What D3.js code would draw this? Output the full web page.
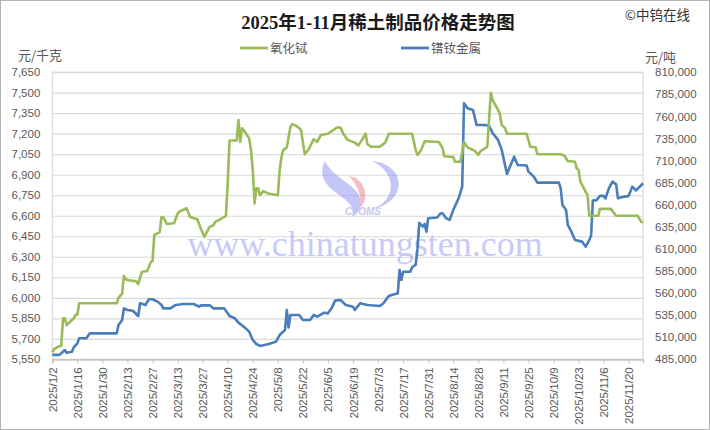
<!DOCTYPE html>
<html><head><meta charset="utf-8">
<script src="https://cdn.jsdelivr.net/npm/d3@7"></script>
<style>body{margin:0;background:#fff}svg{display:block}</style>
</head><body>
<svg id="c" width="710" height="430"></svg>
<script>
// ---------- data ----------
const year = 2025;
const tickLabels = ["1/2","1/16","1/30","2/13","2/27","3/13","3/27","4/10","4/24","5/8","5/22","6/5","6/19","7/3","7/17","7/31","8/14","8/28","9/11","9/25","10/9","10/23","11/6","11/20"];
const leftTicks = d3.range(5550, 7651, 150);
const rightTicks = d3.range(485000, 810001, 25000);

// 氧化铽 (元/千克, left axis)
const terbiumDates = ["1/2","1/3","1/5","1/7","1/8","1/9","1/10","1/14","1/15","1/16","1/17","2/7","2/8","2/10","2/11","2/12","2/13","2/18","2/19","2/21","2/24","2/26","2/27","2/28","3/3","3/4","3/5","3/7","3/11","3/13","3/14","3/18","3/20","3/24","3/26","3/28","3/31","4/2","4/3","4/8","4/9","4/10","4/11","4/15","4/16","4/17","4/18","4/19","4/22","4/23","4/24","4/25","4/26","4/27","4/28","4/30","5/2","5/8","5/9","5/10","5/11","5/13","5/15","5/16","5/18","5/20","5/21","5/23","5/25","5/28","5/30","6/1","6/5","6/10","6/12","6/14","6/16","6/20","6/22","6/24","6/26","6/27","6/29","7/4","7/7","7/9","7/22","7/24","7/25","7/27","7/29","8/6","8/8","8/9","8/14","8/15","8/18","8/20","8/22","8/26","8/28","8/29","9/1","9/2","9/4","9/5","9/9","9/10","9/12","9/13","9/24","9/26","9/29","9/30","10/13","10/15","10/17","10/21","10/22","10/23","10/24","10/27","10/28","10/29","11/3","11/4","11/10","11/13","11/25","11/27","11/28"];
const terbiumValues = [5600,5625,5640,5650,5850,5850,5800,5850,5875,5875,5960,5960,6000,6030,6160,6135,6130,6120,6100,6190,6195,6260,6270,6460,6480,6590,6590,6540,6545,6615,6630,6655,6590,6575,6505,6445,6520,6530,6555,6590,6600,6840,7150,7150,7300,7140,7240,7225,7165,7080,6935,6690,6800,6800,6750,6780,6765,6750,6930,7030,7080,7100,7250,7270,7260,7240,7225,7050,7080,7160,7140,7190,7200,7245,7245,7190,7155,7135,7115,7155,7200,7125,7105,7105,7135,7200,7200,7080,7045,7080,7145,7140,7095,7035,7030,6995,6995,7140,7100,7075,7045,7070,7095,7105,7500,7445,7350,7265,7240,7200,7200,7105,7100,7050,7050,7040,7000,6995,6945,6935,6850,6775,6750,6600,6600,6650,6650,6600,6600,6555,6550];

// 镨钕金属 (元/吨, right axis)
const prndDates = ["1/2","1/6","1/9","1/10","1/13","1/14","1/16","1/17","1/21","1/23","2/7","2/8","2/10","2/11","2/13","2/16","2/19","2/20","2/23","2/25","2/27","3/2","3/4","3/5","3/9","3/12","3/16","3/22","3/25","3/26","3/31","4/2","4/8","4/11","4/14","4/16","4/19","4/22","4/24","4/26","4/28","5/3","5/7","5/9","5/12","5/13","5/14","5/15","5/20","5/22","5/26","5/28","5/30","6/3","6/5","6/7","6/9","6/12","6/15","6/19","6/20","6/23","6/27","7/4","7/6","7/8","7/9","7/12","7/14","7/15","7/16","7/17","7/21","7/22","7/24","7/25","7/26","7/28","7/29","7/30","7/31","8/5","8/7","8/8","8/10","8/12","8/14","8/17","8/19","8/20","8/22","8/25","8/27","9/1","9/3","9/5","9/8","9/10","9/13","9/17","9/19","9/24","9/25","9/28","9/30","10/12","10/13","10/14","10/16","10/17","10/19","10/21","10/25","10/27","10/29","10/30","10/31","11/2","11/4","11/6","11/7","11/9","11/11","11/13","11/14","11/17","11/20","11/22","11/24","11/25","11/28"];
const prndValues = [490000,490000,495500,492500,493500,498600,503100,508800,508800,514400,514400,523800,529500,542700,540800,540000,534000,548400,546500,553000,553000,550000,546500,542700,542700,546500,547600,547600,544600,546000,546000,542700,542700,534000,531400,526500,521900,516300,506900,502300,500100,502300,505000,512500,518200,540800,521000,535200,535200,529500,529500,535200,533300,537800,537000,542700,551400,552100,546500,544600,540800,548400,546500,545400,548400,554100,556700,558600,559500,586000,574800,584000,584200,589200,592000,610000,639500,635200,638200,629500,644700,645500,650300,650300,644700,642800,654100,667300,680500,774900,769300,767300,750300,750300,749200,741000,733400,722800,694900,714400,705000,704300,697500,691800,685000,685000,678700,659700,654100,637100,629500,620100,618200,612500,620100,625000,664700,665200,670000,670000,667000,678700,686100,683000,667300,668900,670000,680500,676100,678000,684300];

// ---------- chart ----------
const parse = s => d3.timeParse("%Y/%m/%d")(year + "/" + s);
const svg = d3.select("#c");
const W = 710, H = 430;
const M = {l: 52.3, r: 643, t: 72.2, b: 359.3};
const FONT = "'Liberation Sans','Noto Sans CJK SC',sans-serif";
const CJK = "'Noto Sans CJK SC','Liberation Sans',sans-serif";
const GREEN = "#9BBB59", BLUE = "#4A7EBB";

const x = d3.scaleTime().domain([parse("1/2"), parse("11/28")]).range([M.l, M.r]);
const yL = d3.scaleLinear().domain([5550, 7650]).range([M.b, M.t]);
const yR = d3.scaleLinear().domain([485000, 810000]).range([M.b, M.t]);

svg.append("rect").attr("x", 0.5).attr("y", 0.5).attr("width", W - 1).attr("height", H - 1)
  .attr("fill", "#fff").attr("stroke", "#b4b4b4");

// gridlines
const grid = svg.append("g").attr("transform", `translate(${M.l},0)`)
  .call(d3.axisLeft(yL).tickValues(leftTicks).tickSize(-(M.r - M.l)).tickFormat(""));
grid.select(".domain").remove();
grid.selectAll("line").attr("stroke", "#d9d9d9").attr("stroke-width", 1.2);

// plot border
svg.append("rect").attr("x", M.l).attr("y", M.t).attr("width", M.r - M.l).attr("height", M.b - M.t)
  .attr("fill", "none").attr("stroke", "#d9d9d9").attr("stroke-width", 1.2);

// watermark
const wm = svg.append("g").attr("opacity", 0.5);
wm.append("path").attr("d", "M325,161 C316,178 330,189 342,197 C352,204 354,210 352,217 C364,210 364,197 352,187 C340,177 330,172 325,161 Z").attr("fill", "#8a8ff0");
wm.append("path").attr("d", "M349,176 C358,186 362,196 360,208 C369,198 366,185 356,178 Z").attr("fill", "#f07a8a");
wm.append("path").attr("d", "M372,161 C392,170 396,190 384,202 C380,206 376,207 371,208 C392,207 403,190 397,176 C392,166 382,162 372,161 Z").attr("fill", "#8a8ff0");
wm.append("text").attr("x", 363).attr("y", 215).attr("text-anchor", "middle")
  .attr("font-family", FONT).attr("font-style", "italic").attr("font-weight", "bold")
  .attr("font-size", 10).attr("fill", "#8a8ff0").text("CTOMS");
svg.append("text").attr("x", 365).attr("y", 256).attr("text-anchor", "middle")
  .attr("font-family", "'Liberation Serif','DejaVu Serif',serif").attr("font-size", 36)
  .attr("fill", "#8f96f2").attr("opacity", 0.5).text("www.chinatungsten.com");

// lines
const lineG = d3.line().x((d, i) => x(parse(terbiumDates[i]))).y(d => yL(d));
const lineB = d3.line().x((d, i) => x(parse(prndDates[i]))).y(d => yR(d));
svg.append("path").datum(prndValues).attr("d", lineB).attr("fill", "none")
  .attr("stroke", BLUE).attr("stroke-width", 2.6).attr("stroke-linejoin", "round");
svg.append("path").datum(terbiumValues).attr("d", lineG).attr("fill", "none")
  .attr("stroke", GREEN).attr("stroke-width", 2.6).attr("stroke-linejoin", "round");

// left axis labels
const la = svg.append("g").attr("transform", `translate(${M.l},0)`)
  .call(d3.axisLeft(yL).tickValues(leftTicks).tickSize(0).tickPadding(12).tickFormat(d3.format(",")));
la.select(".domain").remove();
la.selectAll("text").attr("font-family", FONT).attr("font-size", 11.5).attr("fill", "#595959");

// right axis labels
const ra = svg.append("g").attr("transform", `translate(${M.r},0)`)
  .call(d3.axisRight(yR).tickValues(rightTicks).tickSize(0).tickPadding(12).tickFormat(d3.format(",")));
ra.select(".domain").remove();
ra.selectAll("text").attr("font-family", FONT).attr("font-size", 11.5).attr("fill", "#595959");

// bottom axis
const ba = svg.append("g").attr("transform", `translate(0,${M.b})`)
  .call(d3.axisBottom(x).tickValues(tickLabels.map(parse)).tickSize(4).tickFormat(d3.timeFormat("%Y/%-m/%-d")));
ba.select(".domain").attr("stroke", "#bfbfbf").attr("stroke-width", 1.2);
ba.selectAll("line").attr("stroke", "#bfbfbf");
ba.selectAll("text").attr("font-family", FONT).attr("font-size", 11.5).attr("fill", "#595959")
  .attr("transform", "rotate(-90)").attr("text-anchor", "end")
  .attr("x", -8).attr("y", 0).attr("dy", "0.35em");

// title & labels
svg.append("text").attr("x", 378).attr("y", 29).attr("text-anchor", "middle")
  .attr("font-family", "'Liberation Serif','Noto Sans CJK SC',serif").attr("font-weight", "bold")
  .attr("font-size", 18.5).attr("fill", "#1a1a1a").text("2025年1-11月稀土制品价格走势图");
svg.append("text").attr("x", 690).attr("y", 20).attr("text-anchor", "end")
  .attr("font-family", CJK).attr("font-size", 13.5).attr("fill", "#333").text("©中钨在线");
svg.append("text").attr("x", 18).attr("y", 60)
  .attr("font-family", CJK).attr("font-size", 13).attr("fill", "#595959").text("元/千克");
svg.append("text").attr("x", 645).attr("y", 62)
  .attr("font-family", CJK).attr("font-size", 13).attr("fill", "#595959").text("元/吨");

// legend
const legend = [{name: "氧化铽", color: GREEN, x: 240}, {name: "镨钕金属", color: BLUE, x: 401}];
legend.forEach(l => {
  svg.append("line").attr("x1", l.x).attr("x2", l.x + 28).attr("y1", 48).attr("y2", 48)
    .attr("stroke", l.color).attr("stroke-width", 2.8);
  svg.append("text").attr("x", l.x + 30).attr("y", 53)
    .attr("font-family", CJK).attr("font-size", 12.5).attr("fill", "#595959").text(l.name);
});
</script>
</body></html>
